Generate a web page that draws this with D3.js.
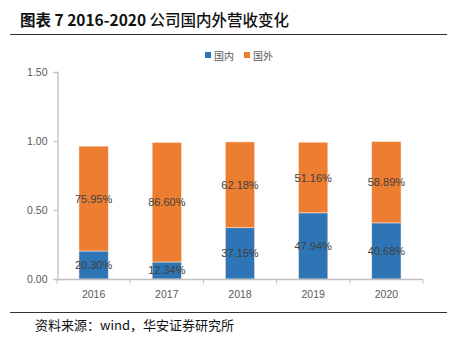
<!DOCTYPE html>
<html><head><meta charset="utf-8">
<script src="https://cdn.jsdelivr.net/npm/d3@7"></script>
<style>
body{margin:0;background:#fff;}
svg{display:block;}
</style></head>
<body>
<svg id="c" width="454" height="344"></svg>
<script>
const categories = ["2016","2017","2018","2019","2020"];
const domestic = [0.2030, 0.1234, 0.3715, 0.4794, 0.4068];
const foreign = [0.7595, 0.8660, 0.6218, 0.5116, 0.5889];
const seriesNames = ["国内","国外"];
const yTicks = [0, 0.5, 1.0, 1.5];

const svg = d3.select("#c");
const cjk = "'Noto Sans CJK SC','Liberation Sans',sans-serif";
const lat = "'Liberation Sans','DejaVu Sans',sans-serif";

// title
const t = svg.append("text").attr("x",20).attr("y",26)
  .attr("font-family",cjk).attr("font-size",15.5).attr("fill","#111");
t.append("tspan").attr("font-weight","bold").text("图表 7 2016-2020 ");
t.append("tspan").attr("font-weight","500").text("公司国内外营收变化");
svg.append("line").attr("x1",10).attr("x2",447).attr("y1",34.5).attr("y2",34.5)
  .attr("stroke","#333").attr("stroke-width",1.2);
svg.append("line").attr("x1",10).attr("x2",447).attr("y1",312.5).attr("y2",312.5)
  .attr("stroke","#333").attr("stroke-width",1.2);
svg.append("text").attr("x",35).attr("y",330)
  .attr("font-family",cjk).attr("font-size",13).attr("fill","#111")
  .text("资料来源：wind，华安证券研究所");

const x = d3.scaleBand().domain(categories).range([57,423]).paddingInner(0.6).paddingOuter(0.3);
const y = d3.scaleLinear().domain([0,1.5]).range([279,72]);

const data = categories.map((c,i)=>({cat:c, d:domestic[i], f:foreign[i]}));
const stack = d3.stack().keys(["d","f"])(data);
const colors = {d:"#2E75B6", f:"#ED7D31"};

// axes
const yAxis = d3.axisLeft(y).tickValues(yTicks).tickFormat(d3.format(".2f")).tickSize(4).tickPadding(6);
const gy = svg.append("g").attr("transform","translate(57.5,0)").call(yAxis);
gy.select(".domain").attr("stroke","#bfbfbf").attr("stroke-width",1.3);
gy.selectAll(".tick line").attr("stroke","#bfbfbf");
gy.selectAll("text").attr("font-family",lat).attr("font-size",10.5).attr("fill","#595959");

// bars
stack.forEach(s=>{
  svg.append("g").selectAll("rect").data(s).join("rect")
    .attr("x",d=>x(d.data.cat)).attr("width",x.bandwidth())
    .attr("y",d=>y(d[1])).attr("height",d=>y(d[0])-y(d[1]))
    .attr("fill",colors[s.key]).attr("stroke","#fbe4d5").attr("stroke-width",0.6);
});

// x axis
const gx = svg.append("g").attr("transform","translate(0,279.5)");
gx.append("line").attr("x1",57).attr("x2",423).attr("stroke","#bfbfbf").attr("stroke-width",1.3);
const bounds = d3.range(categories.length+1).map(i=>57 + i*(366/categories.length));
gx.selectAll(".tk").data(bounds).join("line").attr("class","tk")
  .attr("x1",d=>d).attr("x2",d=>d).attr("y1",0).attr("y2",4).attr("stroke","#bfbfbf");
gx.selectAll(".lb").data(categories).join("text").attr("class","lb")
  .attr("x",d=>x(d)+x.bandwidth()/2).attr("y",18).attr("text-anchor","middle")
  .attr("font-family",lat).attr("font-size",10.5).attr("fill","#595959").text(d=>d);

// data labels
stack.forEach(s=>{
  svg.append("g").selectAll("text").data(s).join("text")
    .attr("x",d=>x(d.data.cat)+x.bandwidth()/2)
    .attr("y",d=>y((d[0]+d[1])/2)+4)
    .attr("text-anchor","middle").attr("font-family",lat).attr("font-size",11)
    .attr("fill","#404040")
    .text(d=>d3.format(".2%")(d[1]-d[0]));
});

// legend
const lg = svg.append("g");
const lx = [205, 244];
seriesNames.forEach((n,i)=>{
  lg.append("rect").attr("x",lx[i]).attr("y",52).attr("width",6).attr("height",6)
    .attr("fill",i===0?colors.d:colors.f);
  lg.append("text").attr("x",lx[i]+9).attr("y",59.5).attr("font-family",cjk).attr("font-size",10)
    .attr("fill","#595959").text(n);
});
</script>
</body></html>
